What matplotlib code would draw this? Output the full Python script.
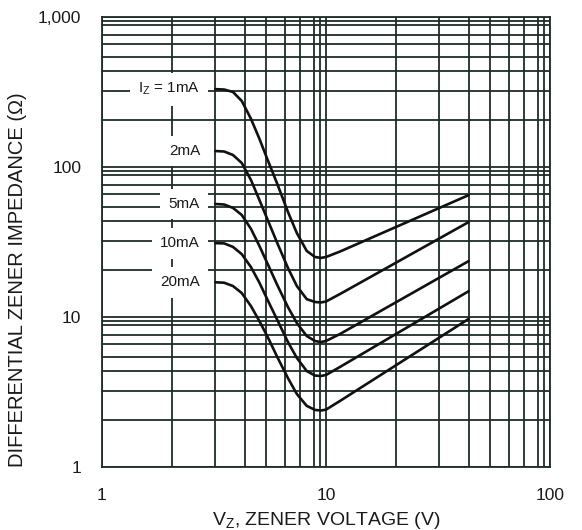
import numpy as np
import matplotlib
matplotlib.use("Agg")
import matplotlib.pyplot as plt

plt.rcParams["font.family"] = ["Liberation Sans", "DejaVu Sans"]
plt.rcParams["mathtext.default"] = "regular"

# Zener voltage (V) sample points along each curve
v_points = [3.0, 3.3, 3.6, 3.9, 4.3, 4.7, 5.1, 5.6, 6.2, 6.8, 7.5, 8.2, 9.1, 10, 12, 40]

# Differential impedance (ohm) for each test current
z_1mA = [310, 308, 297, 266, 204, 160, 115, 70.6, 46.7, 34.1, 26.6, 24.5, 24.2, 24.5, 26.4, 59.5]
z_2mA = [134, 133, 125.6, 108.6, 74.8, 55.7, 41.1, 29.3, 20.7, 16.6, 13.8, 13.2, 13.1, 13.3, 14.9, 39.7]
z_5mA = [52.6, 52.2, 49.6, 44.6, 36.2, 28.3, 22.1, 16.8, 12.1, 8.5, 6.85, 6.35, 6.24, 6.35, 7.06, 23.1]
z_10mA = [29.3, 29.2, 28.0, 25.5, 21.0, 17.3, 13.6, 9.2, 6.24, 4.96, 4.03, 3.79, 3.77, 3.82, 4.32, 15.5]
z_20mA = [17.4, 17.3, 16.6, 15.1, 12.3, 8.9, 6.76, 5.02, 3.66, 2.90, 2.49, 2.35, 2.33, 2.36, 2.66, 9.5]

curve_labels = ["I$_Z$ = 1mA", "2mA", "5mA", "10mA", "20mA"]

x_ticks = [1, 10, 100]
x_ticklabels = ["1", "10", "100"]
y_ticks = [1, 10, 100, 1000]
y_ticklabels = ["1", "10", "100", "1,000"]

# Chart-paper decade ruling: position of mantissa 1..10 within one decade
MANT = np.arange(1, 11, dtype=float)
FRAC = np.array([0.0, 0.313, 0.506, 0.637, 0.731, 0.817, 0.883, 0.945, 0.975, 1.0])


def paper_fwd(v):
    v = np.asarray(v, dtype=float)
    with np.errstate(divide="ignore", invalid="ignore"):
        lg = np.log10(np.where(v > 0, v, np.nan))
        d = np.floor(lg)
        m = v / 10.0 ** d
    return d + np.interp(m, MANT, FRAC)


def paper_inv(p):
    p = np.asarray(p, dtype=float)
    d = np.floor(p)
    f = p - d
    return 10.0 ** d * np.interp(f, FRAC, MANT)


GRID = "#1e2c26"

fig = plt.figure(figsize=(5.82, 5.30), dpi=100)
ax = fig.add_axes([102 / 582, 1 - 467 / 530, 448 / 582, 450 / 530])
ax.set_xscale("function", functions=(paper_fwd, paper_inv))
ax.set_yscale("function", functions=(paper_fwd, paper_inv))
ax.set_xlim(1, 100)
ax.set_ylim(1, 1000)

minor_x = [m * 10 ** d for d in range(0, 2) for m in range(2, 10)]
minor_y = [m * 10 ** d for d in range(0, 3) for m in range(2, 10)]
ax.set_xticks(x_ticks)
ax.set_xticklabels(x_ticklabels)
ax.set_xticks(minor_x, minor=True)
ax.set_yticks(y_ticks)
ax.set_yticklabels(y_ticklabels)
ax.set_yticks(minor_y, minor=True)
ax.tick_params(which="both", length=0)
ax.tick_params(axis="x", which="major", pad=15, labelsize=12.5, labelcolor="#1a1a1a")
ax.tick_params(axis="y", which="major", pad=15, labelsize=12.5, labelcolor="#1a1a1a")
ax.tick_params(which="minor", labelbottom=False, labelleft=False)

ax.grid(True, which="both", color=GRID, lw=1.3)
ax.set_axisbelow(True)
for sp in ax.spines.values():
    sp.set_color(GRID)
    sp.set_linewidth(1.3)

series = [z_1mA, z_2mA, z_5mA, z_10mA, z_20mA]
for z, lab in zip(series, curve_labels):
    ax.plot(v_points, z, color="#111111", lw=1.9, solid_capstyle="round",
            solid_joinstyle="round", zorder=3)
    ax.annotate(lab, xy=(v_points[0], z[0]), xytext=(-11, 0),
                textcoords="offset points", ha="right", va="center",
                fontsize=11, color="#1a1a1a", zorder=4,
                bbox=dict(boxstyle="square,pad=0.55", fc="white", ec="none"))

ax.set_xlabel("V$_Z$, ZENER VOLTAGE (V)", fontsize=14, color="#1a1a1a")
ax.set_ylabel("DIFFERENTIAL ZENER IMPEDANCE (\u03A9)", fontsize=14.5, color="#1a1a1a")
ax.xaxis.set_label_coords(0.5, -0.095)
ax.yaxis.set_label_coords(-0.167, 0.416)

fig.savefig("out.png", dpi=100, facecolor="white")
